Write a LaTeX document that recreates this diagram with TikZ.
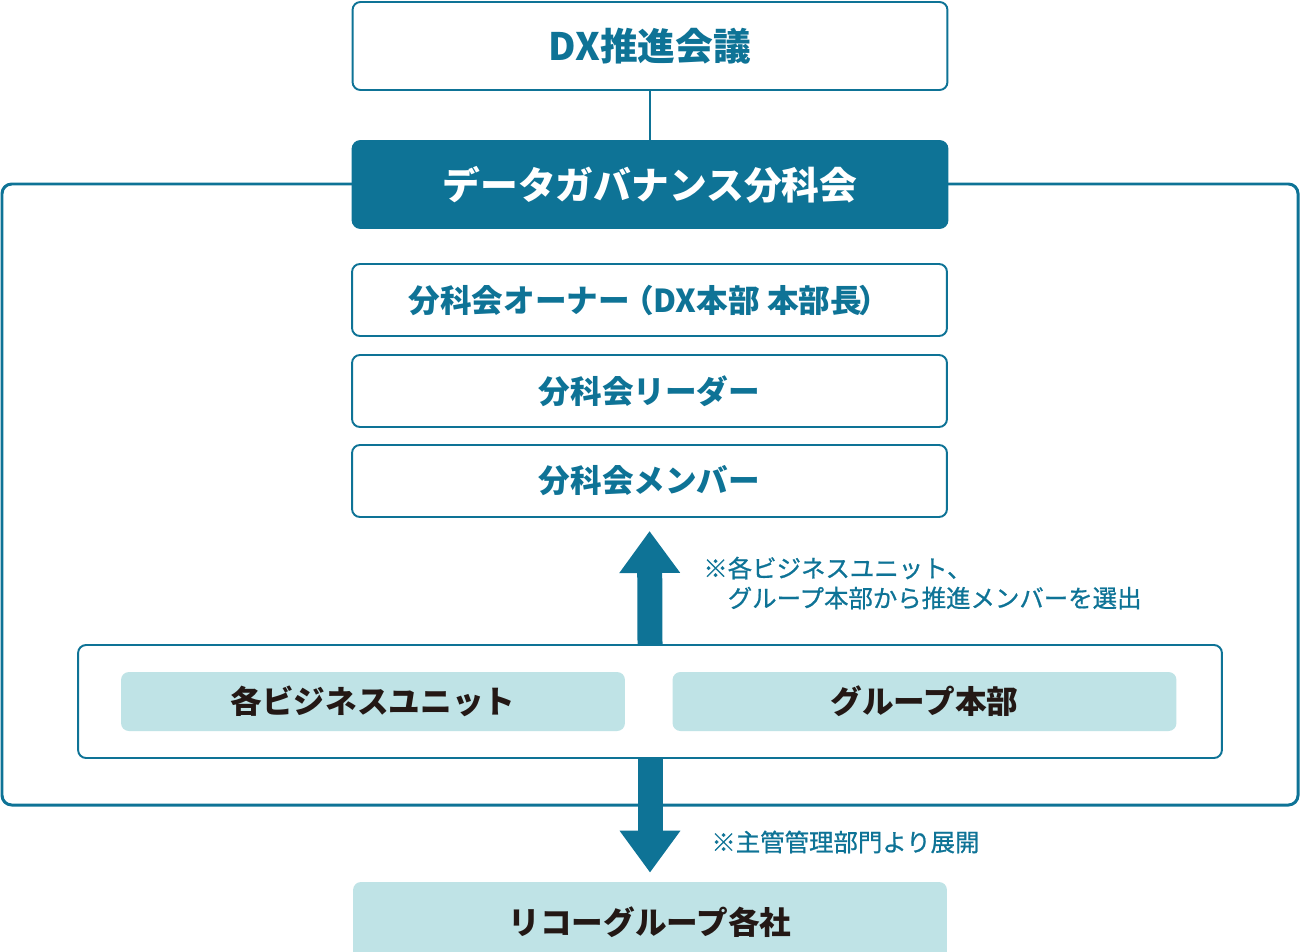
\documentclass[tikz,border=0pt]{standalone}
\usepackage{fontspec}
\newfontfamily\jpfont{Noto Sans CJK JP}
\newfontfamily\jpnote{Noto Sans CJK JP}[FakeBold=0.8]
\usetikzlibrary{arrows.meta}
\definecolor{dxteal}{HTML}{0E7396}
\definecolor{dxlight}{HTML}{BFE3E6}
\definecolor{dxtext}{HTML}{231815}
\tikzset{
  rolebox/.style={draw=dxteal, line width=1.1pt, fill=white, rounded corners=4.5pt,
    minimum width=11.9cm, minimum height=1.44cm, inner sep=0pt, text=dxteal,
    font=\jpfont\bfseries\fontsize{18pt}{18pt}\selectfont},
  unitbox/.style={fill=dxlight, rounded corners=4.5pt, minimum width=10.08cm,
    minimum height=1.18cm, inner sep=0pt, text=dxtext,
    font=\jpfont\bfseries\fontsize{18pt}{18pt}\selectfont},
  notetext/.style={text=dxteal, inner sep=0pt, align=left,
    font=\jpnote\fontsize{13.9pt}{17pt}\selectfont},
  bigarrow/.style={draw=dxteal, line width=0.5cm,
    -{Triangle[width=1.16cm, length=0.84cm]}}
}
\begin{document}
\begin{tikzpicture}[x=0.02cm, y=-0.02cm]
        \path[use as bounding box] (0,0) rectangle (1300,952);
        % frame of the sub-committee
        \draw[dxteal, line width=1.7pt, rounded corners=5.5pt] (2,184) rectangle (1298,805);
        \node[rolebox, minimum height=1.76cm, font=\jpfont\bfseries\fontsize{21.5pt}{21.5pt}\selectfont] at (650,46) (dx) {DX推進会議};
        \node[rolebox, fill=dxteal, text=white, minimum height=1.74cm, font=\jpfont\bfseries\fontsize{21.5pt}{21.5pt}\selectfont] at (650,184.5) (dg) {データガバナンス分科会};
        \path[draw, dxteal, line width=1.1pt] (dx) -- (dg);
        \node[rolebox] at (649.5,300) (owner) {分科会オーナー\hspace{-0.25em}（DX本部 本部長\hspace{-0.1em}）};
        \node[rolebox] at (649.5,391) (leader) {分科会リーダー};
        \node[rolebox] at (649.5,481) (member) {分科会メンバー};
        \node[rolebox, minimum width=22.88cm, minimum height=2.26cm] at (650,701.5) (units) {};
        \node[unitbox] at (373,701.5) (bu) {各ビジネスユニット};
        \node[unitbox] at (924.5,701.5) (gh) {グループ本部};
        \node[unitbox, minimum width=11.88cm, minimum height=1.6cm] at (650,922) (ricoh) {リコーグループ各社};
        \path[bigarrow, shorten >=0.26cm] (units.north) -- (member.south);
        \path[bigarrow, shorten >=0.18cm] (units.south) -- (ricoh.north);
        \node[notetext, anchor=west] at (703,583) (select) {※各ビジネスユニット、\\\phantom{※}グループ本部から推進メンバーを選出};
        \node[notetext, anchor=west] at (711,842) (deploy) {※主管管理部門より展開};
      \end{tikzpicture}
\end{document}
